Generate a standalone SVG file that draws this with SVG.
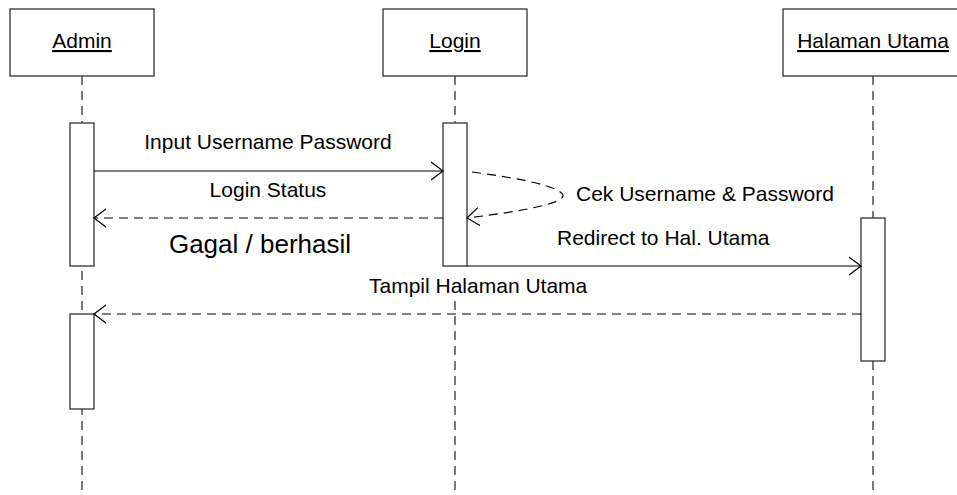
<svg xmlns="http://www.w3.org/2000/svg" width="957" height="495" viewBox="0 0 957 495">
<style>
.box{fill:#fff;stroke:#333;stroke-width:1.3}
.act{fill:#fff;stroke:#333;stroke-width:1.3}
.life{stroke:#333;stroke-width:1.3;stroke-dasharray:9 6;fill:none}
.msg{stroke:#000;stroke-width:1.2;fill:none}
.ret{stroke:#000;stroke-width:1.2;fill:none;stroke-dasharray:9 6}
.t{font-family:"Liberation Sans",Arial,sans-serif;font-size:21px;fill:#000}
.big{font-size:26px}
.u{text-decoration:underline}
</style>
<defs>
<marker id="open" markerWidth="14" markerHeight="20" refX="12" refY="10" orient="auto" markerUnits="userSpaceOnUse">
<path d="M0,1 L12,10 L0,19" fill="none" stroke="#000" stroke-width="1.2"/>
</marker>
</defs>
<rect width="957" height="495" fill="#fff"/>
<g id="lifelines">
<line class="life" x1="82" y1="76" x2="82" y2="495"/>
<line class="life" x1="455" y1="76" x2="455" y2="495"/>
<line class="life" x1="873" y1="76" x2="873" y2="495"/>
</g>
<g id="admin">
<rect class="box" x="10" y="9" width="144" height="67"/>
<text class="t u" x="82" y="48" text-anchor="middle">Admin</text>
<rect class="act" x="70" y="123" width="24" height="143"/>
<rect class="act" x="70" y="314" width="24" height="95"/>
</g>
<g id="login">
<rect class="box" x="383" y="9" width="144" height="67"/>
<text class="t u" x="455" y="48" text-anchor="middle">Login</text>
<rect class="act" x="443" y="123" width="24" height="143"/>
</g>
<g id="halaman">
<rect class="box" x="783" y="9" width="180" height="67"/>
<text class="t u" x="873" y="48" text-anchor="middle">Halaman Utama</text>
<rect class="act" x="861" y="218" width="24" height="143"/>
</g>
<g id="connectors">
<line class="msg" x1="94" y1="171" x2="443" y2="171" marker-end="url(#open)"/>
<line class="ret" x1="443" y1="218" x2="94" y2="218" marker-end="url(#open)"/>
<path class="ret" d="M472,172 C525,179 560,187 563,195 C565,203 525,211 467,218" marker-end="url(#open)"/>
<line class="msg" x1="467" y1="266" x2="861" y2="266" marker-end="url(#open)"/>
<line class="ret" x1="861" y1="314" x2="94" y2="314" marker-end="url(#open)"/>
</g>
<g id="labels">
<text class="t" x="268" y="149" text-anchor="middle">Input Username Password</text>
<text class="t" x="268" y="197" text-anchor="middle">Login Status</text>
<text class="t big" x="260" y="253" text-anchor="middle">Gagal / berhasil</text>
<text class="t" x="576" y="201">Cek Username &amp; Password</text>
<text class="t" x="557" y="245">Redirect to Hal. Utama</text>
<rect x="367" y="270" width="224" height="30" fill="#fff"/>
<text class="t" x="369" y="293">Tampil Halaman Utama</text>
</g>
</svg>
